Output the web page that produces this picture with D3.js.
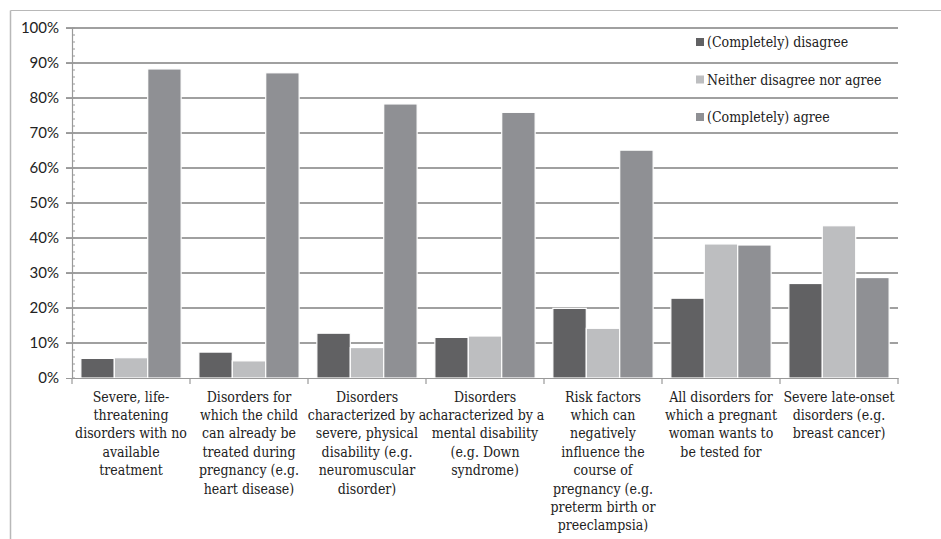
<!DOCTYPE html>
<html>
<head>
<meta charset="utf-8">
<script src="https://cdn.jsdelivr.net/npm/d3@7"></script>
<style>
  html, body { margin: 0; padding: 0; background: #fff; }
  svg { display: block; }
  .serif { font-family: "DejaVu Serif", serif; font-stretch: condensed; }
  .serif2 { font-family: "DejaVu Serif Condensed", "DejaVu Serif", serif; }
</style>
</head>
<body>
<svg id="chart" width="941" height="539"></svg>
<script>
// ---- data ----
const categories = [
  ["Severe, life-", "threatening", "disorders with no", "available", "treatment"],
  ["Disorders for", "which the child", "can already be", "treated during", "pregnancy (e.g.", "heart disease)"],
  ["Disorders", "characterized by a", "severe, physical", "disability (e.g.", "neuromuscular", "disorder)"],
  ["Disorders", "characterized by a", "mental disability", "(e.g. Down", "syndrome)"],
  ["Risk factors", "which can", "negatively", "influence the", "course of", "pregnancy (e.g.", "preterm birth or", "preeclampsia)"],
  ["All disorders for", "which a pregnant", "woman wants to", "be tested for"],
  ["Severe late-onset", "disorders (e.g.", "breast cancer)"]
];
const seriesNames = ["(Completely) disagree", "Neither disagree nor agree", "(Completely) agree"];
const disagree = [5.6, 7.4, 12.8, 11.6, 19.9, 22.8, 27.0];
const neither  = [5.8, 4.9, 8.7, 12.0, 14.2, 38.3, 43.5];
const agree    = [88.3, 87.2, 78.3, 75.9, 65.1, 38.0, 28.7];
const yTicks = [0, 10, 20, 30, 40, 50, 60, 70, 80, 90, 100];

const seriesValues = [disagree, neither, agree];
const colors = ["#616163", "#bdbec0", "#8f9094"];

// ---- layout ----
const svg = d3.select("#chart");
const x0 = 72, x1 = 898, yTop = 28, yBot = 378;

const x = d3.scaleBand().domain(d3.range(categories.length)).range([x0, x1]).paddingInner(0).paddingOuter(0);
const xs = d3.scaleBand().domain(d3.range(3)).range([0, x.bandwidth()]).paddingOuter(0.265).paddingInner(0.0);
const y = d3.scaleLinear().domain([0, 100]).range([yBot, yTop]);

// outer border (top and left)
svg.append("line").attr("x1", 10.5).attr("x2", 941).attr("y1", 10.5).attr("y2", 10.5)
  .attr("stroke", "#b8b8b8").attr("stroke-width", 1);
svg.append("line").attr("x1", 10.5).attr("x2", 10.5).attr("y1", 10.5).attr("y2", 539)
  .attr("stroke", "#b8b8b8").attr("stroke-width", 1.5);

// gridlines
svg.append("g").selectAll("line").data(yTicks.filter(d => d > 0)).join("line")
  .attr("x1", x0 - 6).attr("x2", x1)
  .attr("y1", d => y(d)).attr("y2", d => y(d))
  .attr("stroke", "#a0a0a0").attr("stroke-width", 1.8);

// minor ticks on y axis
svg.append("g").selectAll("line").data(d3.range(0, 101, 2)).join("line")
  .attr("x1", x0).attr("x2", x0 + 3)
  .attr("y1", d => y(d)).attr("y2", d => y(d))
  .attr("stroke", "#999").attr("stroke-width", 1);

// y axis
const yAxis = d3.axisLeft(y).tickValues(yTicks).tickFormat(d => d + "%").tickSize(6).tickPadding(6);
const gy = svg.append("g").attr("transform", `translate(${x0},0)`).call(yAxis);
gy.select(".domain").attr("stroke", "#999").attr("stroke-width", 1.2);
gy.selectAll(".tick line").attr("stroke", "#999");
gy.selectAll(".tick text").attr("font-family", "Lato, 'Open Sans', sans-serif")
  .attr("font-size", 15).attr("fill", "#222").attr("x", -13);

// bars
const groups = svg.append("g").selectAll("g").data(categories.map((c, i) => i)).join("g")
  .attr("transform", i => `translate(${x(i)},0)`);
groups.selectAll("rect").data(i => seriesValues.map((s, k) => ({k, v: s[i]}))).join("rect")
  .attr("x", d => xs(d.k))
  .attr("width", xs.bandwidth())
  .attr("y", d => y(d.v))
  .attr("height", d => yBot - y(d.v))
  .attr("fill", d => colors[d.k])
  .attr("stroke", "#fff").attr("stroke-width", 1.2);

// x axis
const xAxis = d3.axisBottom(x).tickValues([]).tickSizeOuter(0);
const gx = svg.append("g").attr("transform", `translate(0,${yBot})`).call(xAxis);
gx.select(".domain").attr("stroke", "#999").attr("stroke-width", 1.2);
svg.append("g").selectAll("line").data(d3.range(categories.length + 1)).join("line")
  .attr("x1", i => x0 + i * x.bandwidth()).attr("x2", i => x0 + i * x.bandwidth())
  .attr("y1", yBot).attr("y2", yBot + 6)
  .attr("stroke", "#999").attr("stroke-width", 1.2);

// category labels
const lbl = svg.append("g").selectAll("text").data(categories).join("text")
  .attr("class", "serif")
  .attr("font-size", 14).attr("fill", "#222").attr("text-anchor", "middle");
lbl.each(function(lines, i) {
  d3.select(this).selectAll("tspan").data(lines).join("tspan")
    .attr("x", x(i) + x.bandwidth() / 2)
    .attr("y", (d, j) => 401.5 + j * 18.4)
    .text(d => d);
});

// legend
const leg = svg.append("g").selectAll("g").data(seriesNames).join("g")
  .attr("transform", (d, i) => `translate(696,${42 + i * 37.5})`);
leg.append("rect").attr("x", 0).attr("y", -4).attr("width", 8).attr("height", 8)
  .attr("fill", (d, i) => colors[i]);
leg.append("text").attr("x", 11).attr("y", 5)
  .attr("class", "serif2")
  .attr("font-size", 14).attr("fill", "#222").text(d => d);
</script>
</body>
</html>
